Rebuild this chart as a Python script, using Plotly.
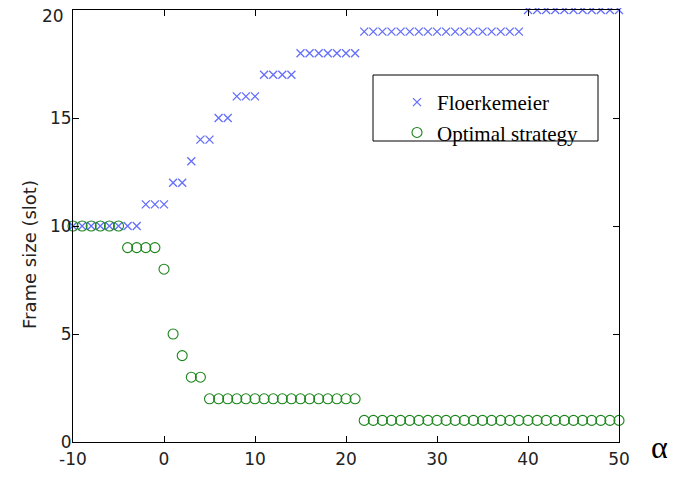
import plotly.graph_objects as go

alpha = list(range(-10, 51))
floerkemeier = ([10]*8 + [11]*3 + [12]*2 + [13] + [14]*2 + [15]*2 + [16]*3 +
                [17]*4 + [18]*7 + [19]*18 + [20]*11)
optimal = [10]*6 + [9]*4 + [8, 5, 4, 3, 3] + [2]*17 + [1]*29

x_ticks = [-10, 0, 10, 20, 30, 40, 50]
y_ticks = [0, 5, 10, 15, 20]

fig = go.Figure()
fig.add_trace(go.Scatter(
    x=alpha, y=floerkemeier, mode="markers", name="Floerkemeier",
    marker=dict(symbol="x-thin-open", size=8, line=dict(color="#2c2ca0", width=1.3)),
    cliponaxis=False))
fig.add_trace(go.Scatter(
    x=alpha, y=optimal, mode="markers", name="Optimal strategy",
    marker=dict(symbol="circle-open", size=10, color="#1a841a", line=dict(color="#1a841a", width=1.1)),
    cliponaxis=False))

OFF = 8  # page body margin
W, H = 686, 469
L, R, T, B = 65, 75, 2, 35
pw, ph = W - L - R, H - T - B

def px(sx):
    return (sx - OFF - L) / pw

def py(sy):
    return (H - B - (sy - OFF)) / ph

tick_font = dict(family="DejaVu Sans", size=17, color="#222222")
axis_common = dict(showline=True, linecolor="black", linewidth=1, mirror="ticks",
                   ticks="inside", ticklen=6, tickcolor="black", showgrid=False,
                   zeroline=False, ticklabeloverflow="allow", tickfont=tick_font)

# top label drawn separately (it sits slightly below its tick at the image edge)
y_ticktext = [str(v) if v != y_ticks[-1] else "" for v in y_ticks]

fig.update_xaxes(range=[-10, 50], tickvals=x_ticks, ticktext=[str(v) for v in x_ticks],
                 ticklabelstandoff=2, **axis_common)
fig.update_yaxes(range=[0, 20], tickvals=y_ticks, ticktext=y_ticktext,
                 ticklabelstandoff=-3, **axis_common)

fig.add_annotation(text=str(y_ticks[-1]), xref="paper", yref="paper",
                   x=px(66), y=py(16), showarrow=False, xanchor="right", yanchor="middle",
                   font=tick_font)

fig.add_shape(type="rect", xref="paper", yref="paper",
              x0=px(373), x1=px(598), y0=py(141), y1=py(75),
              line=dict(color="black", width=1), fillcolor="white", layer="above")

fig.add_annotation(text="Frame size (slot)", xref="paper", yref="paper",
                   x=px(29.5), y=py(254.5), textangle=-90, showarrow=False,
                   xanchor="center", yanchor="middle",
                   font=dict(family="DejaVu Sans", size=18, color="#222222"))
fig.add_annotation(text="α", xref="paper", yref="paper",
                   x=px(659), y=py(447), showarrow=False,
                   xanchor="center", yanchor="middle",
                   font=dict(family="Liberation Serif", size=32, color="black"))

fig.update_layout(
    width=W, height=H, margin=dict(l=L, r=R, t=T, b=B, autoexpand=False),
    plot_bgcolor="white", paper_bgcolor="white",
    legend=dict(x=px(397), y=py(82), xanchor="left", yanchor="top",
                bgcolor="rgba(0,0,0,0)", borderwidth=0,
                font=dict(family="Liberation Serif", size=21, color="black"),
                tracegroupgap=0),
    showlegend=True)

fig.write_html("out.html")
